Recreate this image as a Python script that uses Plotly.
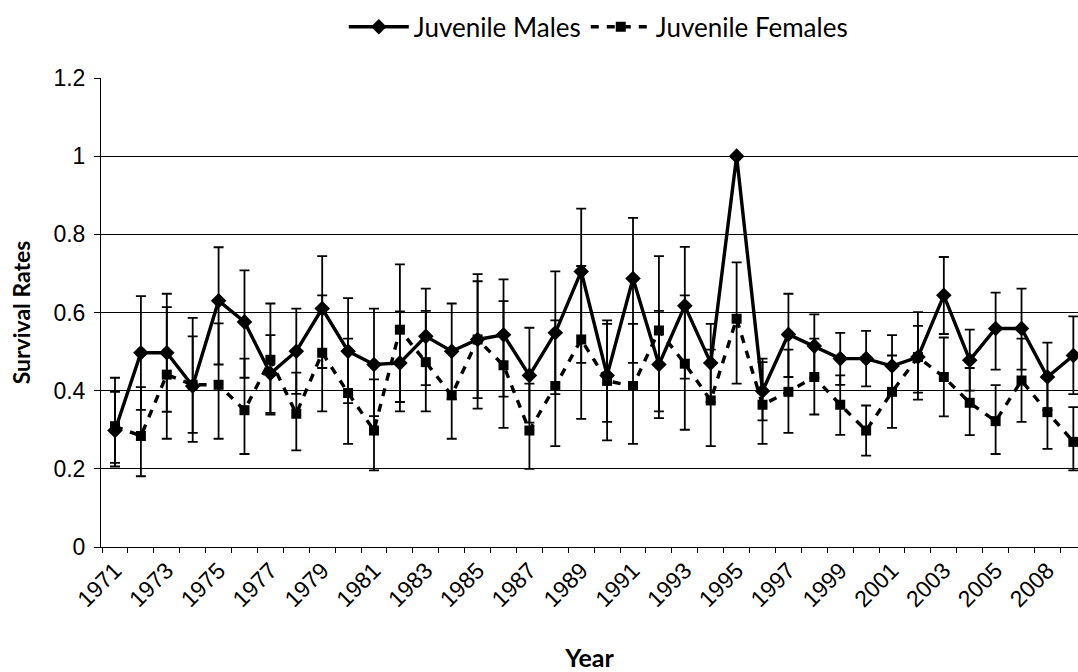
import plotly.graph_objects as go

# Survival estimates with confidence bounds, one entry per sampled year
years = [str(y) for y in range(1971, 2007)] + ["2008", "2009"]

male_rate = [0.298, 0.497, 0.497, 0.412, 0.630, 0.576, 0.444, 0.501, 0.610, 0.501,
             0.467, 0.471, 0.539, 0.501, 0.531, 0.543, 0.439, 0.548, 0.705, 0.439,
             0.687, 0.467, 0.617, 0.471, 1.000, 0.399, 0.544, 0.514, 0.482, 0.482,
             0.463, 0.486, 0.644, 0.478, 0.559, 0.559, 0.435, 0.490]
male_low = [0.206, 0.351, 0.346, 0.292, 0.467, 0.433, 0.343, 0.392, 0.458, 0.368,
            0.335, 0.347, 0.414, 0.379, 0.354, 0.385, 0.318, 0.391, 0.471, 0.320,
            0.471, 0.330, 0.431, 0.371, 1.000, 0.324, 0.435, 0.433, 0.415, 0.411,
            0.390, 0.377, 0.545, 0.400, 0.454, 0.454, 0.350, 0.391]
male_high = [0.433, 0.642, 0.648, 0.539, 0.767, 0.708, 0.542, 0.610, 0.744, 0.637,
             0.610, 0.603, 0.661, 0.623, 0.698, 0.685, 0.561, 0.705, 0.866, 0.580,
             0.842, 0.604, 0.768, 0.571, 1.000, 0.473, 0.648, 0.595, 0.548, 0.553,
             0.542, 0.601, 0.742, 0.556, 0.651, 0.661, 0.523, 0.590]

female_rate = [0.309, 0.284, 0.441, 0.415, 0.415, 0.350, 0.479, 0.341, 0.497, 0.394,
               0.298, 0.556, 0.473, 0.388, 0.531, 0.465, 0.298, 0.412, 0.531, 0.425,
               0.412, 0.554, 0.469, 0.375, 0.584, 0.364, 0.397, 0.435, 0.364, 0.298,
               0.397, 0.486, 0.435, 0.369, 0.322, 0.426, 0.345, 0.269]
female_low = [0.215, 0.181, 0.277, 0.269, 0.277, 0.238, 0.339, 0.247, 0.347, 0.264,
              0.196, 0.371, 0.347, 0.277, 0.381, 0.305, 0.200, 0.258, 0.328, 0.273,
              0.264, 0.347, 0.300, 0.258, 0.418, 0.264, 0.292, 0.339, 0.287, 0.234,
              0.305, 0.395, 0.334, 0.286, 0.238, 0.320, 0.251, 0.196]
female_high = [0.397, 0.409, 0.614, 0.586, 0.572, 0.482, 0.623, 0.446, 0.644, 0.533,
               0.429, 0.723, 0.604, 0.499, 0.680, 0.629, 0.418, 0.580, 0.719, 0.571,
               0.571, 0.744, 0.644, 0.505, 0.728, 0.482, 0.505, 0.533, 0.439, 0.362,
               0.490, 0.566, 0.536, 0.458, 0.414, 0.533, 0.440, 0.358]

y_ticks = [0, 0.2, 0.4, 0.6, 0.8, 1, 1.2]
y_tick_text = ["0", "0.2", "0.4", "0.6", "0.8", "1", "1.2"]

pos = list(range(len(years)))


def bars(rate, low, high):
    return dict(type="data", symmetric=False,
                array=[h - r for r, h in zip(rate, high)],
                arrayminus=[r - l for r, l in zip(rate, low)],
                color="black", thickness=1.8, width=5)


fig = go.Figure()
fig.add_trace(go.Scatter(
    x=pos, y=male_rate, name="Juvenile Males", mode="lines+markers",
    line=dict(color="black", width=3.4),
    marker=dict(symbol="diamond", size=12, color="black"),
    error_y=bars(male_rate, male_low, male_high),
))
fig.add_trace(go.Scatter(
    x=pos, y=female_rate, name="Juvenile Females", mode="lines+markers",
    line=dict(color="black", width=3.4, dash="8px,8px"),
    marker=dict(symbol="square", size=10, color="black"),
    error_y=bars(female_rate, female_low, female_high),
))

label_idx = pos[::2]
fig.update_layout(
    width=1078, height=672,
    margin=dict(l=101, r=0, t=78, b=125),
    paper_bgcolor="white", plot_bgcolor="white",
    showlegend=True,
    legend=dict(orientation="h", x=0.509, xanchor="center",
                yref="container", y=0.995, yanchor="top",
                font=dict(family="Lato", size=26, color="black"),
                itemwidth=60, traceorder="normal"),
    xaxis=dict(
        range=[-0.54, 37.18],
        tickmode="array", tickvals=label_idx,
        ticktext=[years[i] for i in label_idx],
        tickangle=-45, ticks="",
        tickfont=dict(family="Liberation Sans", size=23, color="black"),
        showgrid=False, zeroline=False,
        showline=True, linecolor="black", linewidth=1,
        minor=dict(tickvals=[i - 0.5 for i in pos], ticks="outside",
                   ticklen=5, tickcolor="black", showgrid=False),
        title=dict(text="<b>Year</b>", standoff=39,
                   font=dict(family="Lato", size=25, color="black")),
    ),
    yaxis=dict(
        range=[0, 1.2],
        tickmode="array", tickvals=y_ticks, ticktext=y_tick_text,
        ticks="outside", ticklen=6, tickcolor="black",
        ticklabelstandoff=4,
        tickfont=dict(family="Liberation Sans", size=23, color="black"),
        showgrid=True, gridcolor="black", gridwidth=1,
        zeroline=False,
        showline=True, linecolor="black", linewidth=1,
        title=dict(text="<b>Survival Rates</b>", standoff=16,
                   font=dict(family="Lato", size=23, color="black")),
    ),
)

fig.write_html("out.html")
